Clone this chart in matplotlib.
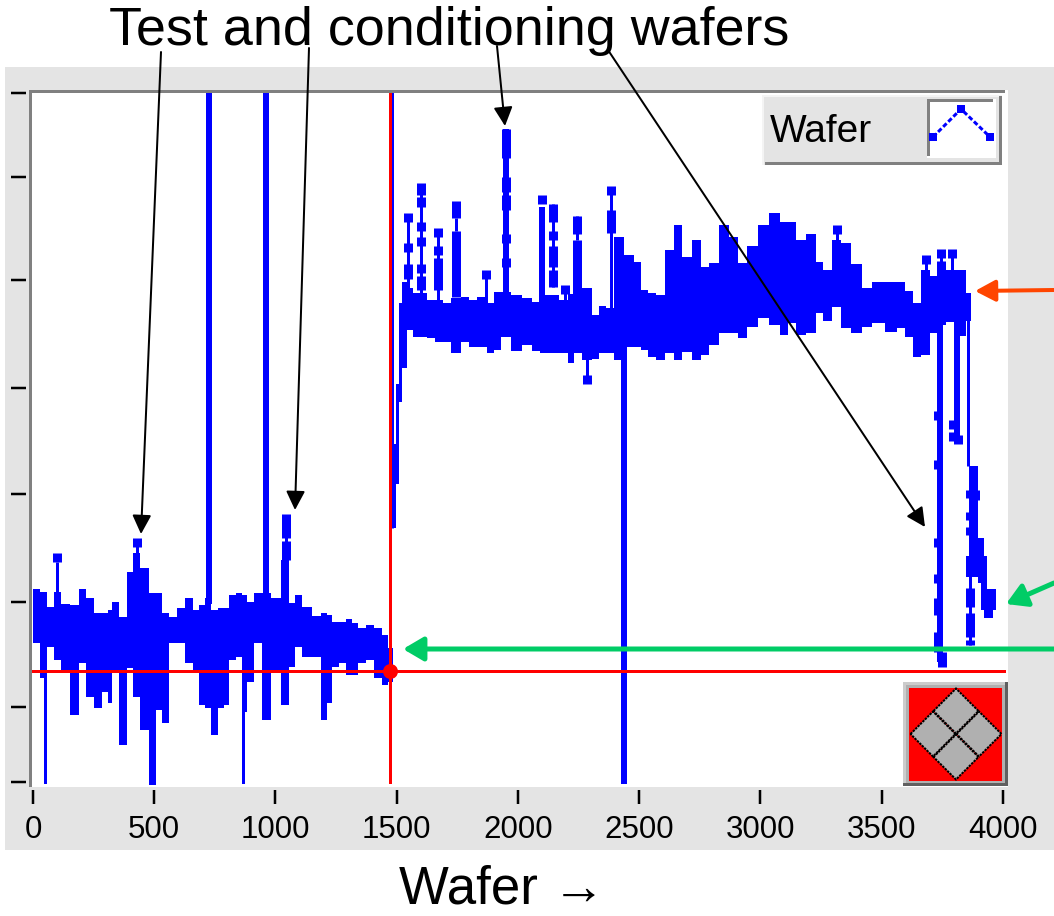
import matplotlib
matplotlib.use("Agg")
import matplotlib.pyplot as plt
from matplotlib.patches import Rectangle, Polygon

W, H = 1054, 916
plt.rcParams['font.family'] = ['Liberation Sans', 'DejaVu Sans']

# ---- data (y axis has no labels: arbitrary units) ----
x_ticks = [0, 500, 1000, 1500, 2000, 2500, 3000, 3500, 4000]
y_ticks = [2, 77, 182, 290, 396, 504, 607, 691]

body_wafer = [0, 12, 43, 70, 100, 132, 175, 201, 238, 263, 304, 311, 338, 373, 400, 427, 458, 496, 521, 547,
              579, 613, 645, 675, 696, 726, 744, 778, 799, 819, 854, 867, 895, 929, 961, 1005, 1039, 1074,
              1091, 1129, 1170, 1204, 1225, 1245, 1280, 1305, 1328, 1355, 1390, 1424, 1452, 1479,
              1490, 1503, 1513, 1534, 1555, 1582, 1610, 1644, 1672, 1706, 1746, 1782, 1816, 1850, 1891,
              1912, 1951, 1995, 2036, 2077, 2105, 2146, 2194, 2221, 2245, 2283, 2325, 2345, 2382, 2414,
              2462, 2496, 2517, 2554, 2586, 2627, 2661, 2696, 2737, 2771, 2806, 2851, 2888, 2923, 2964,
              3012, 3060, 3102, 3129, 3163, 3211, 3246, 3273, 3315, 3349, 3397, 3438, 3486, 3541, 3583,
              3610, 3645, 3682, 3713, 3743, 3791, 3837, 3858, 3868]
body_upper = [195, 195, 192, 177, 192, 180, 179, 195, 186, 171, 171, 174, 182, 167, 212, 231, 216, 191, 191, 171,
              167, 176, 186, 174, 179, 186, 174, 176, 176, 189, 191, 189, 182, 191, 191, 186, 224, 181,
              189, 177, 168, 171, 169, 162, 162, 165, 161, 156, 159, 156, 149, 136,
              340, 400, 481, 502, 496, 491, 491, 484, 484, 481, 486, 487, 484, 487, 481,
              492, 492, 489, 486, 482, 489, 489, 484, 490, 490, 496, 469, 478, 476, 547,
              529, 522, 494, 491, 489, 534, 559, 527, 544, 517, 521, 559, 547, 521, 538,
              559, 571, 562, 562, 544, 550, 522, 514, 544, 541, 520, 496, 502, 502, 502,
              493, 481, 514, 508, 514, 514, 514, 491, 491]
body_lower = [141, 141, 106, 137, 124, 114, 69, 121, 87, 76, 92, 81, 114, 39, 116, 87, 54, -5, 74, 61,
              141, 141, 121, 114, 79, 76, 49, 76, 79, 124, 127, 72, 102, 141, 64, 114, 79, 117,
              137, 127, 127, 64, 81, 117, 121, 109, 109, 121, 124, 106, 99, 102,
              256, 300, 382, 416, 454, 447, 447, 446, 442, 442, 431, 442, 437, 437, 431,
              434, 447, 433, 439, 433, 431, 431, 431, 421, 431, 424, 425, 431, 431, 424,
              437, 437, 434, 427, 424, 431, 424, 432, 424, 429, 439, 451, 451, 446, 457,
              466, 459, 449, 461, 449, 451, 471, 463, 477, 456, 451, 457, 461, 452, 456,
              447, 427, 429, 451, 459, 462, 448, 463, 463]

tail_wafer = [3847, 3860, 3897, 3909, 3922, 3934, 3946, 3959, 3971]
tail_upper = [228, 318, 246, 246, 228, 195, 195, 195, 195]
tail_lower = [207, 207, 201, 174, 166, 166, 166, 174, 174]

thin_wafer = [51, 100, 427, 1042, 867, 1481, 1548, 1599, 1672, 1746, 1870, 2146, 2194, 2245, 2382, 2283, 3315,
              3682, 3743, 3791, 3858, 3865]
thin_low = [-5, 190, 230, 225, -5, 256, 490, 490, 480, 553, 480, 497, 480, 544, 470, 405, 540,
            510, 510, 510, 318, 139]
thin_high = [145, 222, 241, 266, 130, 700, 567, 596, 552, 566, 510, 580, 495, 568, 593, 430, 555,
             525, 531, 531, 470, 210]

wide_wafer = [726, 961, 2437, 3741, 3810, 1951, 2099]
wide_low = [180, 180, -5, 122, 345, 487, 480]
wide_high = [700, 700, 450, 470, 470, 655, 577]

block_wafer = [100, 427, 1042, 1042,
               1548, 1548, 1548, 1599, 1599, 1599, 1599, 1599, 1599,
               1672, 1672, 1672, 1746, 1746, 1870,
               1951, 1951, 1951, 1951, 1951,
               2099, 2146, 2146, 2146, 2146, 2194, 2245, 2245, 2283,
               2382, 2382, 3315, 3682, 3743, 3743, 3791,
               3731, 3731, 3731, 3731, 3731, 3731, 3748,
               3795, 3795, 3815,
               3866, 3866, 3866, 3866, 3866, 3866, 3885]
block_low = [222, 237, 246, 224,
             562, 532, 505, 589, 577, 553, 538, 511, 494,
             547, 529, 494, 566, 487, 505,
             626, 592, 574, 541, 517,
             580, 562, 544, 517, 497, 490, 550, 487, 400,
             589, 551, 550, 520, 526, 514, 526,
             364, 315, 237, 201, 169, 132, 117,
             355, 343, 340,
             286, 264, 249, 177, 147, 139, 284]
block_high = [231, 246, 270, 243,
              571, 541, 520, 601, 587, 562, 547, 520, 508,
              556, 538, 526, 583, 553, 514,
              655, 607, 589, 550, 526,
              589, 580, 553, 538, 514, 499, 568, 544, 409,
              598, 574, 559, 529, 535, 523, 535,
              373, 324, 246, 210, 186, 152, 132,
              364, 352, 349,
              294, 272, 257, 196, 171, 144, 294]

cursor_wafer = 1473
cursor_value = 113

BLUE, RED = '#0000ff', '#ff0000'
PANEL = '#e4e4e4'
GRAY = '#808080'
px = 72 / 100  # points per pixel at dpi 100

fig = plt.figure(figsize=(W / 100, H / 100), dpi=100, facecolor='white')

# pixel-coordinate layers for the panel behind and the decorations in front
bg = fig.add_axes([0, 0, 1, 1], zorder=0)
fg = fig.add_axes([0, 0, 1, 1], zorder=5)
for a in (bg, fg):
    a.set_xlim(0, W)
    a.set_ylim(H, 0)
    a.axis('off')
    a.patch.set_alpha(0)

bg.add_patch(Rectangle((5, 67), W - 5, 783, color=PANEL, lw=0))
bg.add_patch(Rectangle((30, 90), 978, 697, color='white', lw=0))

# main plot
L, R, T, B = 32, 1008, 93, 784
ax = fig.add_axes([L / W, 1 - B / H, (R - L) / W, (B - T) / H], zorder=2)
ax.patch.set_alpha(0)
ax.set_xlim(-4, 4021)
ax.set_ylim(0, 691)
for s in ('top', 'right'):
    ax.spines[s].set_visible(False)
for s in ('left', 'bottom'):
    ax.spines[s].set_position(('outward', 6 * px))
    ax.spines[s].set_visible(False)

ax.set_xticks(x_ticks)
ax.set_yticks(y_ticks)
ax.set_yticklabels([])
ax.tick_params(axis='x', length=14 * px, width=2.5 * px, color='black', labelsize=22.5, pad=8)
ax.tick_params(axis='y', length=15 * px, width=2.5 * px, color='black')

ax.fill_between(body_wafer, body_lower, body_upper, step='mid', color=BLUE, lw=0, zorder=2)
ax.fill_between(tail_wafer, tail_lower, tail_upper, step='post', color=BLUE, lw=0, zorder=2)
ax.vlines(thin_wafer, thin_low, thin_high, color=BLUE, lw=3 * px, zorder=2, capstyle='butt')
ax.vlines(wide_wafer, wide_low, wide_high, color=BLUE, lw=6 * px, zorder=2, capstyle='butt')
ax.vlines(block_wafer, block_low, block_high, color=BLUE, lw=9 * px, zorder=2, capstyle='butt')

# cursor
ax.axvline(cursor_wafer, color=RED, lw=3 * px, zorder=3)
ax.axhline(cursor_value, xmax=0.996, color=RED, lw=3 * px, zorder=3)
ax.plot([cursor_wafer], [cursor_value], marker='o', ms=15 * px, mew=0, color=RED, zorder=4)

ax.set_xlabel('Wafer \u2192', fontsize=38)
ax.xaxis.set_label_coords((502 - L) / (R - L), -(904 - B) / (B - T))
ax.xaxis.label.set_verticalalignment('baseline')

fig.suptitle('Test and conditioning wafers', fontsize=38.8, x=449 / W, y=1 - 45 / H, va='baseline')

# plot frame: gray top and left edge
fg.add_patch(Rectangle((29, 90), 3, 697, color=GRAY, lw=0))
fg.add_patch(Rectangle((29, 90), 976, 3, color=GRAY, lw=0))


def arrow(x0, y0, x1, y1, color, lw, hl, hw):
    fg.annotate('', xy=(x1, y1), xytext=(x0, y0),
                arrowprops=dict(arrowstyle=f'-|>,head_length={hl * px / 10},head_width={hw * px / 10}',
                                mutation_scale=10, color=color, lw=lw * px,
                                shrinkA=0, shrinkB=0))


# pointers from the caption to the test wafers
arrow(161, 52, 141, 534, 'black', 2, 16, 8)
arrow(309, 48, 295, 510, 'black', 2, 16, 8)
arrow(497, 46, 505, 126, 'black', 2, 16, 8)
arrow(608, 50, 925, 527, 'black', 2, 16, 8)
# coloured pointers
arrow(1054, 290, 975, 291, 'orangered', 4, 17, 9)
arrow(1054, 649, 403, 649, '#00cc66', 5, 17, 10)
arrow(1054, 583, 1006, 604, '#00cc66', 5, 17, 10)

# legend box
fg.add_patch(Rectangle((762, 95), 240, 70, color=PANEL, lw=0))
fg.add_patch(Rectangle((762, 95), 240, 2, color='#f4f4f4', lw=0))
fg.add_patch(Rectangle((762, 95), 2, 70, color='#f4f4f4', lw=0))
fg.add_patch(Rectangle((765, 162), 237, 3, color=GRAY, lw=0))
fg.add_patch(Rectangle((999, 96), 3, 69, color=GRAY, lw=0))
fg.text(770, 142, 'Wafer', fontsize=28, color='black', va='baseline', ha='left')
fg.add_patch(Rectangle((927, 99), 69, 59, color='white', lw=0))
fg.add_patch(Rectangle((927, 99), 66, 3, color=GRAY, lw=0))
fg.add_patch(Rectangle((927, 99), 3, 57, color=GRAY, lw=0))
fg.plot([933, 961, 990], [137, 109, 137], color=BLUE, lw=3 * px, ls=(0, (1.6, 0.8)))
fg.plot([933, 961, 990], [137, 109, 137], ls='none', marker='s', ms=8 * px, mew=0, color=BLUE)

# zoom button
fg.add_patch(Rectangle((903, 682), 105, 104, color='#606060', lw=0))
fg.add_patch(Rectangle((903, 682), 102, 101, color='#cccccc', lw=0))
fg.add_patch(Rectangle((906, 685), 99, 98, color='#b0b0b0', lw=0))
fg.add_patch(Rectangle((909, 688), 93, 93, color=RED, lw=0))
cx, cy, r = 956, 734, 22.5
for dx, dy in ((-23, 0), (23, 0), (0, -23), (0, 23)):
    fg.add_patch(Polygon([(cx + dx - r, cy + dy), (cx + dx, cy + dy - r),
                          (cx + dx + r, cy + dy), (cx + dx, cy + dy + r)],
                         closed=True, facecolor='#b0b0b0', edgecolor='black', lw=2 * px,
                         ls=(0, (1.2, 0.5))))

fig.savefig('out.png', dpi=100, facecolor='white')
